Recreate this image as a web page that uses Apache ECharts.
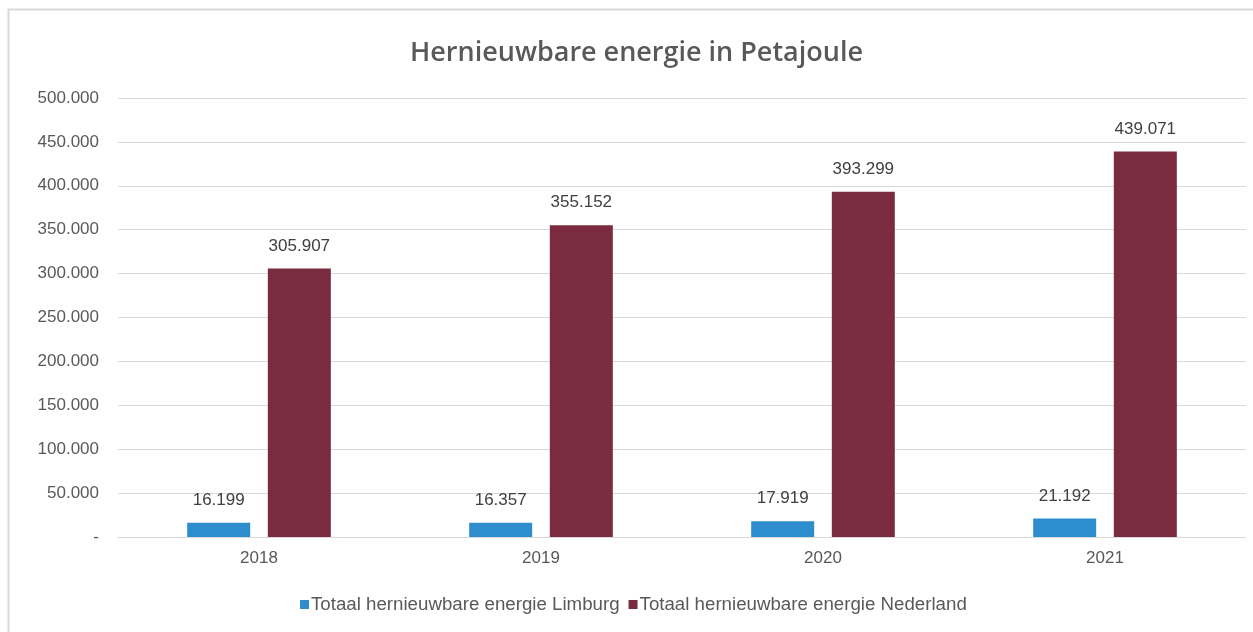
<!DOCTYPE html>
<html>
<head>
<meta charset="utf-8">
<script src="https://cdn.jsdelivr.net/npm/echarts@6/dist/echarts.min.js"></script>
<style>
html,body{margin:0;padding:0;background:#fff;}
#chart{width:1253px;height:632px;}
</style>
</head>
<body>
<div id="chart"></div>
<script>
const titleText = 'Hernieuwbare energie in Petajoule';
const categories = ['2018', '2019', '2020', '2021'];
const seriesNames = ['Totaal hernieuwbare energie Limburg', 'Totaal hernieuwbare energie Nederland'];
const limburg = [16199, 16357, 17919, 21192];
const nederland = [305907, 355152, 393299, 439071];

function fmtThousands(v) {
  if (v === 0) return '-';
  const s = String(Math.round(v));
  return s.replace(/\B(?=(\d{3})+(?!\d))/g, '.');
}

const FONT = 'Liberation Sans, Arial, sans-serif';
const chart = echarts.init(document.getElementById('chart'), null, {renderer: 'canvas'});
const labelStyle = {
  show: true, position: 'top', distance: 14,
  color: '#404040', fontSize: 17, fontFamily: FONT,
  formatter: p => fmtThousands(p.value)
};
chart.setOption({
  animation: false,
  backgroundColor: '#ffffff',
  graphic: [
    {type: 'line', shape: {x1: 8.5, y1: 9, x2: 8.5, y2: 632}, style: {stroke: '#d9d9d9', lineWidth: 2}},
    {type: 'line', shape: {x1: 8, y1: 9.5, x2: 1253, y2: 9.5}, style: {stroke: '#d9d9d9', lineWidth: 2}}
  ],
  title: {
    text: titleText, left: 405, top: 35,
    textStyle: {fontSize: 27, fontWeight: 600, color: '#595959', fontFamily: 'Open Sans, sans-serif'}
  },
  legend: {
    bottom: 13, left: 295, itemWidth: 9, itemHeight: 9, itemGap: 9, icon: 'rect',
    textStyle: {fontSize: 18.7, color: '#595959', fontFamily: FONT, padding: [0, 0, 0, -3]},
    data: seriesNames
  },
  grid: {left: 118, right: 7, top: 98, bottom: 95, containLabel: false},
  xAxis: {
    type: 'category', data: categories,
    axisLine: {lineStyle: {color: '#d9d9d9', width: 1}},
    axisTick: {show: false},
    axisLabel: {color: '#595959', fontSize: 17, margin: 13, fontFamily: FONT}
  },
  yAxis: {
    type: 'value', min: 0, max: 500000, interval: 50000,
    axisLine: {show: false}, axisTick: {show: false},
    splitLine: {lineStyle: {color: '#d9d9d9', width: 1}},
    axisLabel: {color: '#595959', fontSize: 17, margin: 19, fontFamily: FONT, formatter: fmtThousands}
  },
  series: [
    {name: seriesNames[0], type: 'bar', data: limburg, barWidth: 63, barGap: '28%',
     itemStyle: {color: '#2E8DCD'}, label: labelStyle},
    {name: seriesNames[1], type: 'bar', data: nederland, barWidth: 63,
     itemStyle: {color: '#7B2B40'}, label: labelStyle}
  ]
});
</script>
</body>
</html>
